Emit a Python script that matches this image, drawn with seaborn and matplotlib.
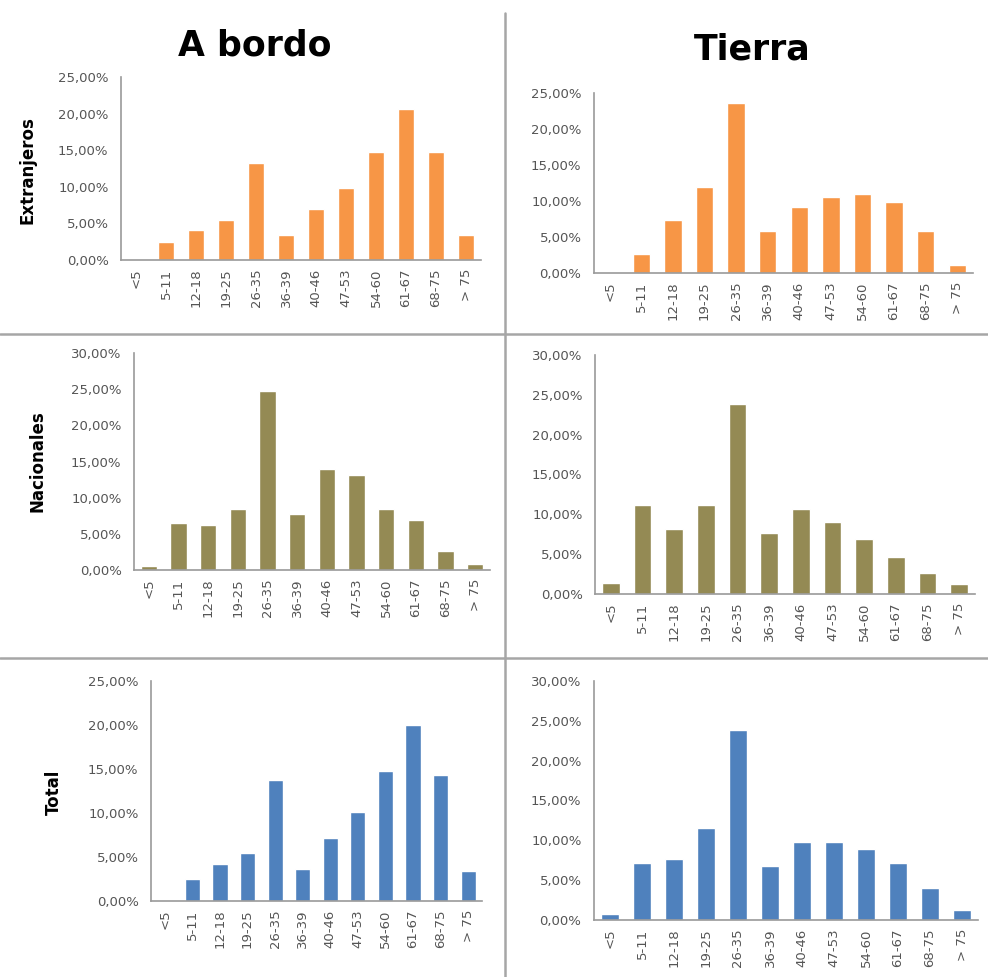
import matplotlib
matplotlib.use("Agg")
import matplotlib.pyplot as plt
from matplotlib.lines import Line2D
from matplotlib.ticker import FuncFormatter
import seaborn as sns
import pandas as pd

sns.set_theme(style="white")
plt.rcParams["font.family"] = ["DejaVu Sans"]

age_groups = ["<5", "5-11", "12-18", "19-25", "26-35", "36-39",
              "40-46", "47-53", "54-60", "61-67", "68-75", "> 75"]

# Porcentaje por grupo de edad
bordo_extranjeros = [0.0, 2.4, 4.1, 5.4, 13.3, 3.4, 6.9, 9.9, 14.8, 20.6, 14.8, 3.4]
tierra_extranjeros = [0.0, 2.7, 7.3, 11.9, 23.6, 5.8, 9.1, 10.6, 11.0, 9.9, 5.8, 1.1]
bordo_nacionales = [0.5, 6.5, 6.2, 8.5, 24.7, 7.8, 13.9, 13.2, 8.5, 6.9, 2.6, 0.8]
tierra_nacionales = [1.4, 11.2, 8.1, 11.2, 23.9, 7.7, 10.7, 9.1, 6.9, 4.6, 2.6, 1.2]
bordo_total = [0.0, 2.5, 4.2, 5.5, 13.7, 3.6, 7.2, 10.1, 14.8, 20.0, 14.3, 3.4]
tierra_total = [0.8, 7.1, 7.7, 11.5, 23.8, 6.8, 9.8, 9.8, 8.9, 7.1, 4.0, 1.3]

col_titles = ["A bordo", "Tierra"]
row_labels = ["Extranjeros", "Nacionales", "Total"]
row_colors = ["#F79646", "#948A54", "#4F81BD"]

W, H = 988, 977
fig = plt.figure(figsize=(W / 100, H / 100), dpi=100)


def box(left, top, right, bottom):
    return [left / W, 1 - bottom / H, (right - left) / W, (bottom - top) / H]


panels = [
    (bordo_extranjeros, 0, 25, box(121, 77, 481, 260)),
    (tierra_extranjeros, 0, 25, box(594, 93, 973, 273)),
    (bordo_nacionales, 1, 30, box(134, 353, 490, 570)),
    (tierra_nacionales, 1, 30, box(595, 355, 975, 594)),
    (bordo_total, 2, 25, box(151, 681, 482, 901)),
    (tierra_total, 2, 30, box(594, 681, 978, 920)),
]

pct = FuncFormatter(lambda v, _: f"{v:.2f}%".replace(".", ","))

for values, row, ymax, rect in panels:
    ax = fig.add_axes(rect)
    df = pd.DataFrame({"edad": age_groups, "pct": values})
    sns.barplot(data=df, x="edad", y="pct", color=row_colors[row],
                saturation=1, width=0.55, ax=ax)
    ax.set_ylim(0, ymax)
    ax.set_xlim(-0.5, len(age_groups) - 0.5)
    ax.set_yticks(range(0, ymax + 1, 5))
    ax.yaxis.set_major_formatter(pct)
    ax.set_xlabel("")
    ax.set_ylabel("")
    ax.tick_params(axis="y", length=0, pad=9, labelsize=9.5, labelcolor="#555555")
    ax.tick_params(axis="x", length=0, pad=6, labelsize=9.5, labelcolor="#555555",
                   rotation=90)
    sns.despine(ax=ax)
    for side in ("left", "bottom"):
        ax.spines[side].set_color("#9A9A9A")
        ax.spines[side].set_linewidth(1.2)

# Column titles
fig.text(255 / W, 1 - 46 / H, col_titles[0], ha="center", va="center",
         fontsize=25, fontweight="bold", color="black")
fig.text(752 / W, 1 - 50 / H, col_titles[1], ha="center", va="center",
         fontsize=25, fontweight="bold", color="black")

# Row labels
for (x, y), label in zip([(27, 170), (38, 461), (54, 792)], row_labels):
    fig.text(x / W, 1 - y / H, label, rotation=90, ha="center", va="center",
             fontsize=12, fontweight="bold", color="black",
             family=["Liberation Sans Narrow", "DejaVu Sans"])

# Panel separators
sep = dict(color="#A6A6A6", linewidth=1.8, transform=fig.transFigure)
fig.add_artist(Line2D([505 / W, 505 / W], [1 - 13 / H, 0], **sep))
fig.add_artist(Line2D([0, 1], [1 - 334 / H, 1 - 334 / H], **sep))
fig.add_artist(Line2D([0, 1], [1 - 658 / H, 1 - 658 / H], **sep))

fig.savefig("out.png", dpi=100, facecolor="white")
